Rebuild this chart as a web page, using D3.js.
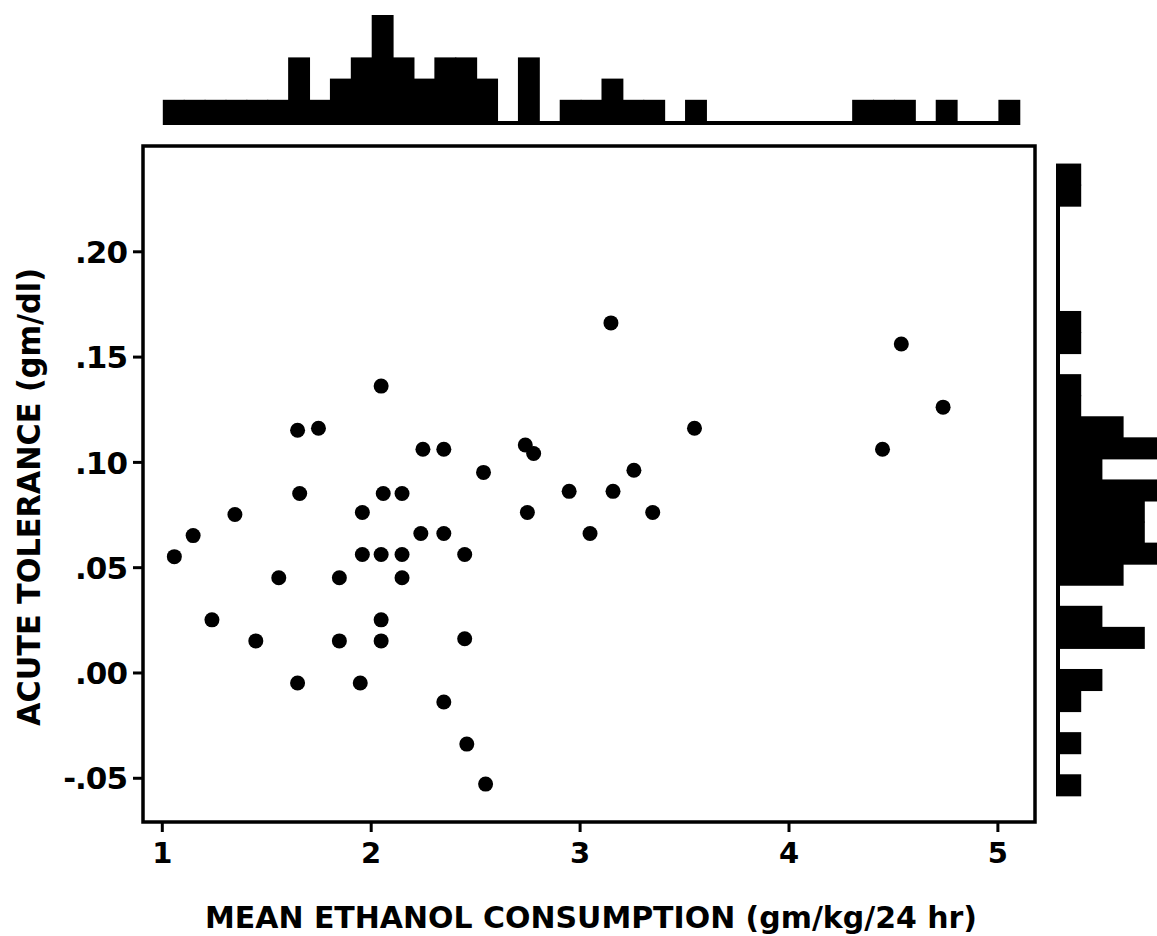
<!DOCTYPE html>
<html>
<head>
<meta charset="utf-8">
<script src="https://cdn.jsdelivr.net/npm/d3@7"></script>
<style>
  body { margin: 0; background: #fff; }
  text { font-family: "DejaVu Sans", sans-serif; font-weight: 700; fill: #000; }
</style>
</head>
<body>
<script>
// scatter: mean ethanol consumption (gm/kg/24 hr) vs acute tolerance (gm/dl)
var consumption = [
  2.05, 1.65, 1.75, 2.25, 2.35, 2.54, 1.66, 2.06, 2.15, 1.35, 1.96, 1.15,
  2.24, 2.35, 1.06, 1.96, 2.05, 2.15, 2.45, 1.56, 1.85, 2.15,
  1.24, 1.45, 1.85, 2.05, 2.05, 2.45, 1.65, 1.95, 2.35, 2.46, 2.55,
  3.15, 4.54, 4.74, 3.55, 4.45, 2.74, 2.78, 3.26, 2.95, 3.16, 2.75, 3.35, 3.05
];
var tolerance = [
  0.136, 0.115, 0.116, 0.106, 0.106, 0.095, 0.085, 0.085, 0.085, 0.075, 0.076, 0.065,
  0.066, 0.066, 0.055, 0.056, 0.056, 0.056, 0.056, 0.045, 0.045, 0.045,
  0.025, 0.015, 0.015, 0.025, 0.015, 0.016, -0.005, -0.005, -0.014, -0.034, -0.053,
  0.166, 0.156, 0.126, 0.116, 0.106, 0.108, 0.104, 0.096, 0.086, 0.086, 0.076, 0.076, 0.066
];

// marginal histogram along the top, bins of 0.1 starting at 1.0
var topBinStart = 1.0, topBinWidth = 0.1;
var topCounts = [
  1, 1, 1, 1, 1, 1, 3, 1, 2, 3,
  5, 3, 2, 3, 3, 2, 0, 3, 0, 1,
  1, 2, 1, 1, 0, 1, 0, 0, 0, 0,
  0, 0, 0, 1, 1, 1, 0, 1, 0, 0,
  1
];

// marginal histogram on the right, bins of 0.01 starting at -0.06
var sideBinStart = -0.06, sideBinWidth = 0.01;
var sideCounts = [
  1, 0, 1, 0, 1, 2, 0, 4, 2, 0,
  3, 5, 4, 4, 6, 2, 5, 3, 1, 1,
  0, 1, 1, 0, 0, 0, 0, 0, 1, 1
];

var xTicks = [1, 2, 3, 4, 5];
var xTickLabels = ["1", "2", "3", "4", "5"];
var yTicks = [-0.05, 0, 0.05, 0.10, 0.15, 0.20];
var yTickLabels = ["-.05", ".00", ".05", ".10", ".15", ".20"];

var xTitle = "MEAN ETHANOL CONSUMPTION (gm/kg/24 hr)";
var yTitle = "ACUTE TOLERANCE (gm/dl)";

var width = 1157, height = 936;
var frame = { left: 143, right: 1035, top: 146, bottom: 822 };

var svg = d3.select("body").append("svg")
  .attr("width", width)
  .attr("height", height);

var x = d3.scaleLinear().domain([0.91, 5.18]).range([frame.left, frame.right]);
var y = d3.scaleLinear().domain([-0.071, 0.25]).range([frame.bottom, frame.top]);

// bar length for the marginal histograms (a thin base line shows at 0)
var barLen = d3.scaleLinear().domain([0, 5]).range([4, 110]);

// top histogram
var topBase = 125;
svg.append("g")
  .selectAll("rect")
  .data(topCounts)
  .enter().append("rect")
  .attr("x", function(d, i) { return x(topBinStart + i * topBinWidth) + 1; })
  .attr("width", function(d, i) { return x(topBinStart + (i + 1) * topBinWidth) - x(topBinStart + i * topBinWidth) + 1; })
  .attr("y", function(d) { return topBase - barLen(d); })
  .attr("height", function(d) { return barLen(d); })
  .attr("fill", "#000");

// right histogram
var sideBase = 1056;
svg.append("g")
  .selectAll("rect")
  .data(sideCounts)
  .enter().append("rect")
  .attr("x", sideBase)
  .attr("y", function(d, i) { return y(sideBinStart + (i + 1) * sideBinWidth) - 3.5; })
  .attr("height", function(d, i) { return y(sideBinStart + i * sideBinWidth) - y(sideBinStart + (i + 1) * sideBinWidth) + 1; })
  .attr("width", function(d) { return barLen(d); })
  .attr("fill", "#000");

// frame
svg.append("rect")
  .attr("x", frame.left)
  .attr("y", frame.top)
  .attr("width", frame.right - frame.left)
  .attr("height", frame.bottom - frame.top)
  .attr("fill", "none")
  .attr("stroke", "#000")
  .attr("stroke-width", 3.5);

// axes
var xAxis = d3.axisBottom(x)
  .tickValues(xTicks)
  .tickSize(10)
  .tickPadding(9)
  .tickFormat(function(d, i) { return xTickLabels[i]; });

var gx = svg.append("g")
  .attr("transform", "translate(0," + frame.bottom + ")")
  .call(xAxis);
gx.select(".domain").remove();
gx.selectAll(".tick line").attr("stroke", "#000").attr("stroke-width", 3);
gx.selectAll(".tick text")
  .attr("font-family", null)
  .attr("font-size", null)
  .style("font-size", "29px")
  .attr("dy", "0.76em");

var yAxis = d3.axisLeft(y)
  .tickValues(yTicks)
  .tickSize(10)
  .tickPadding(6)
  .tickFormat(function(d, i) { return yTickLabels[i]; });

var gy = svg.append("g")
  .attr("transform", "translate(" + frame.left + ",0)")
  .call(yAxis);
gy.select(".domain").remove();
gy.selectAll(".tick line").attr("stroke", "#000").attr("stroke-width", 3);
gy.selectAll(".tick text")
  .attr("font-family", null)
  .attr("font-size", null)
  .style("font-size", "31px")
  .style("letter-spacing", "-1px")
  .attr("dy", "0.36em");

// points
svg.append("g")
  .selectAll("circle")
  .data(consumption)
  .enter().append("circle")
  .attr("cx", function(d) { return x(d); })
  .attr("cy", function(d, i) { return y(tolerance[i]); })
  .attr("r", 7.5)
  .attr("fill", "#000");

// axis titles
svg.append("text")
  .attr("x", 591)
  .attr("y", 928)
  .attr("text-anchor", "middle")
  .attr("textLength", 772)
  .attr("lengthAdjust", "spacingAndGlyphs")
  .style("font-size", "31px")
  .style("font-weight", "600")
  .text(xTitle);

svg.append("text")
  .attr("transform", "translate(40,497) rotate(-90)")
  .attr("text-anchor", "middle")
  .attr("textLength", 458)
  .attr("lengthAdjust", "spacingAndGlyphs")
  .style("font-size", "32px")
  .style("font-weight", "600")
  .text(yTitle);
</script>
</body>
</html>
